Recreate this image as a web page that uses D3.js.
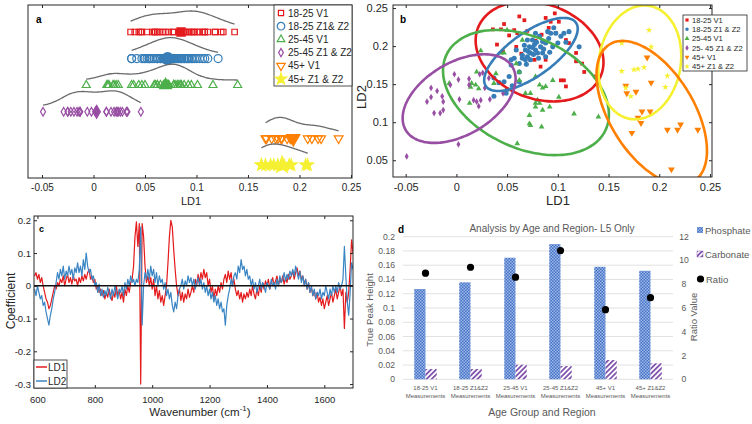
<!DOCTYPE html>
<html>
<head>
<meta charset="utf-8">
<script src="https://cdn.jsdelivr.net/npm/d3@7"></script>
<style>
  body { margin: 0; background: #fff; }
  svg { display: block; font-family: "Liberation Sans", Arial, sans-serif; }
</style>
</head>
<body>
<svg id="fig" width="752" height="424"></svg>
<script>
// ---- data: panels a & b (LD1, LD2 scores per group) ----
var groupsA = ["18-25 V1", "18-25 Z1& Z2", "25-45 V1", "25-45 Z1 & Z2", "45+ V1", "45+ Z1 & Z2"];
var groupsB = ["18-25 V1", "18-25 Z1 & Z2", "25-45 V1", "25- 45 Z1 & Z2", "45+ V1", "45+ Z1 & Z2"];

var young1 = [[0.036,0.222],[0.044,0.222],[0.040,0.202],[0.046,0.193],[0.052,0.214],[0.057,0.221],[0.060,0.217],
  [0.062,0.239],[0.067,0.234],[0.059,0.199],[0.073,0.182],[0.077,0.182],[0.078,0.207],[0.084,0.215],[0.091,0.224],
  [0.093,0.232],[0.097,0.243],[0.098,0.217],[0.101,0.232],[0.108,0.208],[0.111,0.204],[0.118,0.191],[0.118,0.180],
  [0.124,0.177],[0.103,0.155],[0.106,0.155],[0.108,0.147],[0.088,0.182],[0.126,0.166],[0.083,0.173],[0.137,0.160],
  [0.047,0.229],[0.070,0.220],[0.088,0.237],[0.095,0.200],[0.064,0.190]];
var young2 = [[0.037,0.158],[0.037,0.134],[0.042,0.152],[0.047,0.153],[0.052,0.160],[0.050,0.143],[0.055,0.148],
  [0.054,0.182],[0.057,0.184],[0.062,0.166],[0.062,0.177],[0.065,0.188],[0.068,0.195],[0.070,0.208],[0.072,0.199],
  [0.073,0.191],[0.075,0.198],[0.077,0.202],[0.078,0.195],[0.080,0.191],[0.078,0.217],[0.082,0.213],[0.083,0.199],
  [0.085,0.191],[0.088,0.204],[0.090,0.219],[0.091,0.210],[0.093,0.217],[0.095,0.199],[0.096,0.224],[0.100,0.204],
  [0.103,0.213],[0.106,0.217],[0.111,0.219],[0.121,0.199],[0.065,0.184],[0.068,0.182],[0.073,0.182],[0.062,0.153],
  [0.049,0.138],[0.054,0.175],[0.059,0.195],[0.070,0.186],[0.075,0.208],[0.085,0.206],[0.088,0.186],[0.098,0.217],
  [0.067,0.201],[0.071,0.193],[0.079,0.205],[0.081,0.184],[0.086,0.196],[0.076,0.189],[0.069,0.176],[0.092,0.192],
  [0.108,0.205]];
var middle1 = [[0.024,0.194],[0.044,0.191],[0.050,0.221],[0.065,0.208],[0.059,0.177],[-0.007,0.151],[0.014,0.146],
  [0.015,0.151],[0.020,0.166],[0.022,0.144],[0.019,0.149],[0.013,0.125],[0.037,0.151],[0.039,0.164],[0.047,0.191],
  [0.062,0.166],[0.068,0.138],[0.073,0.138],[0.078,0.160],[0.082,0.149],[0.085,0.145],[0.088,0.147],[0.095,0.155],
  [0.078,0.125],[0.080,0.129],[0.082,0.125],[0.078,0.120],[0.085,0.116],[0.092,0.120],[0.072,0.109],[0.072,0.098],
  [0.073,0.096],[0.084,0.094],[0.101,0.133],[0.116,0.111],[0.140,0.107],[0.060,0.072],[0.062,0.155]];
var middle2 = [[-0.049,0.055],[0.002,0.071],[-0.025,0.145],[-0.029,0.127],[-0.025,0.133],[-0.019,0.141],
  [-0.014,0.134],[-0.013,0.127],[-0.022,0.112],[-0.016,0.112],[-0.013,0.116],[-0.002,0.163],[0.002,0.156],
  [-0.006,0.149],[0.003,0.130],[0.0125,0.157],[0.0125,0.149],[0.017,0.129],[0.020,0.127],[0.022,0.121],
  [0.023,0.163],[0.026,0.165],[0.032,0.158],[0.033,0.130],[0.028,0.145],[0.024,0.129],[0.046,0.138]];
var older1 = [[0.188,0.185],[0.192,0.152],[0.167,0.148],[0.168,0.138],[0.177,0.140],[0.183,0.114],[0.191,0.114],
  [0.179,0.106],[0.182,0.099],[0.173,0.086],[0.208,0.090],[0.218,0.090],[0.221,0.097],[0.238,0.090],[0.212,0.038]];
var older2 = [[0.190,0.221],[0.163,0.204],[0.192,0.199],[0.163,0.167],[0.175,0.169],[0.179,0.170],[0.185,0.172],
  [0.208,0.161],[0.206,0.146],[0.172,0.134],[0.167,0.145]];
var groupScores = [young1, young2, middle1, middle2, older1, older2];
// group centre markers in panel a (LD1)
var groupCentres = [0.085, 0.072, 0.070, 0.003, 0.194, 0.183];

// confidence ellipses (centre, two semi-axis vectors, data units)
var ellipseCentre = [[0.082,0.193],[0.0735,0.189],[0.0686,0.139],[0.0027,0.131],[0.1926,0.1124],[0.1808,0.1786]];
var ellipseAxisU = [[0.0610,-0.0299],[0.0444,0.0417],[0.0785,-0.0492],[0.0528,0.0410],[0.0417,-0.0897],[0.0097,0.0742]];
var ellipseAxisV = [[-0.0158,-0.0585],[0.0124,-0.0238],[-0.0229,-0.0659],[0.0177,-0.0413],[-0.0350,-0.0295],[0.0397,-0.0094]];

var ticksA = [-0.05, 0, 0.05, 0.1, 0.15, 0.2, 0.25];
var ticksBY = [0.05, 0.1, 0.15, 0.2, 0.25];

// ---- data: panel c (loadings, 5 cm-1 steps from 590 to 1700) ----
var wavenumbers = d3.range(590, 1701, 5);
var ld1 = [
  0.03,0.04,0.02,0.035,0.01,0.025,0.0,-0.02,-0.04,-0.05,
  -0.07,-0.06,-0.04,-0.02,0.0,-0.01,0.01,0.0,0.02,0.01,
  0.03,0.0,0.02,0.035,0.01,0.025,0.005,0.03,0.015,0.02,
  0.0,0.025,0.01,0.03,0.015,0.035,0.02,0.04,0.05,0.02,
  0.03,0.01,0.02,-0.01,0.0,-0.02,-0.01,-0.03,-0.015,-0.04,
  -0.02,-0.035,-0.01,-0.03,-0.045,-0.02,-0.035,0.0,-0.03,-0.015,
  -0.04,-0.02,-0.05,-0.01,-0.03,0.0,-0.02,0.01,0.02,0.06,
  0.15,0.195,0.12,0.19,-0.30,0.19,0.15,0.06,0.01,0.03,
  0.0,0.025,-0.01,0.02,-0.03,0.0,-0.04,-0.015,-0.05,-0.03,
  -0.06,-0.03,0.0,0.07,0.15,0.2,0.18,0.11,0.05,0.0,
  -0.03,-0.01,-0.045,-0.02,-0.05,-0.025,-0.04,-0.01,-0.035,-0.02,
  0.0,-0.02,0.02,0.0,0.035,0.01,0.04,0.02,0.05,0.025,
  0.04,0.0,0.02,-0.02,0.0,-0.04,-0.01,-0.03,0.0,-0.02,
  0.01,-0.01,0.02,0.035,0.01,0.045,0.02,0.04,0.0,0.02,
  -0.01,-0.03,-0.015,-0.04,-0.02,-0.05,-0.025,-0.04,-0.02,-0.035,
  -0.01,-0.03,0.0,-0.025,-0.04,-0.01,-0.03,0.0,-0.02,0.01,
  -0.01,0.015,0.0,0.02,-0.01,0.01,0.025,0.0,0.015,0.03,
  0.0,0.02,0.01,0.03,0.005,0.025,0.01,0.035,0.02,0.03,
  0.045,0.02,0.04,0.055,0.03,0.045,0.02,0.03,0.005,0.02,
  -0.01,0.01,-0.02,-0.005,-0.03,-0.015,-0.04,-0.02,-0.05,-0.035,
  -0.06,-0.04,-0.07,-0.05,-0.03,-0.06,-0.04,-0.02,-0.05,-0.03,
  -0.01,-0.04,-0.02,0.0,-0.03,-0.01,-0.13,-0.02,-0.05,-0.02,0.05,0.14,0.1];
var ld2 = [
  -0.01,-0.03,0.0,-0.02,-0.04,-0.03,-0.06,-0.05,-0.08,-0.1,
  -0.12,-0.09,-0.07,-0.04,-0.02,0.01,0.04,0.02,0.05,0.03,
  0.06,0.02,0.045,0.03,0.06,0.035,0.05,0.02,0.055,0.04,
  0.07,0.04,0.06,0.03,0.08,0.05,0.1,0.06,0.04,0.05,
  0.02,0.03,0.0,0.01,-0.02,0.005,-0.03,-0.01,-0.035,-0.015,
  -0.03,-0.005,-0.02,-0.04,-0.01,-0.03,0.0,-0.02,-0.04,-0.01,
  -0.02,0.0,-0.03,0.01,-0.01,0.02,0.0,0.03,0.01,0.02,
  0.0,0.02,0.01,0.05,0.18,-0.12,0.0,0.04,0.02,0.05,
  0.02,0.06,0.03,0.05,0.01,0.04,0.0,0.03,0.01,0.02,
  -0.01,0.01,-0.03,-0.01,-0.04,-0.02,-0.06,-0.08,-0.05,-0.07,
  -0.03,-0.01,0.0,0.02,-0.01,0.015,0.0,0.03,0.01,0.025,
  0.0,0.02,-0.01,0.01,0.025,0.0,0.02,-0.01,0.01,-0.02,
  0.0,-0.03,-0.01,-0.04,-0.02,-0.05,-0.03,-0.06,-0.04,-0.07,
  -0.05,-0.08,-0.07,-0.12,-0.06,-0.03,-0.01,0.02,0.0,0.03,
  0.04,0.02,0.06,0.04,0.08,0.05,0.06,0.03,0.05,0.02,
  0.03,0.0,0.02,-0.01,0.01,-0.02,0.0,0.02,-0.01,0.01,
  0.0,-0.02,0.01,0.0,-0.01,0.02,0.0,0.01,-0.01,0.02,
  0.0,0.03,0.01,0.02,0.04,0.015,0.035,0.02,0.045,0.03,
  0.05,0.03,0.06,0.04,0.02,0.045,0.01,0.03,0.0,0.02,
  -0.01,0.01,-0.02,0.0,-0.03,-0.01,-0.04,-0.02,-0.03,-0.01,
  -0.04,-0.02,-0.03,0.0,-0.02,-0.04,-0.01,-0.03,0.0,-0.02,
  0.0,-0.02,0.01,-0.01,0.0,0.02,0.12,0.03,-0.05,-0.09,-0.02,0.07,0.05];
var ticksCX = [600, 800, 1000, 1200, 1400, 1600];
var ticksCY = [-0.3, -0.2, -0.1, 0, 0.1, 0.2];

// ---- data: panel d ----
var dCategories = ["18-25 V1", "18-25 Z1&Z2", "25-45 V1", "25-45 Z1&Z2", "45+ V1", "45+ Z1&Z2"];
var phosphate = [0.1266, 0.136, 0.1705, 0.1896, 0.1578, 0.1522];
var carbonate = [0.0144, 0.0144, 0.0205, 0.0186, 0.027, 0.0224];
var ratio = [8.93, 9.43, 8.59, 10.83, 5.86, 6.87];
var ticksDL = [0, 0.02, 0.04, 0.06, 0.08, 0.1, 0.12, 0.14, 0.16, 0.18, 0.2];
var ticksDR = [0, 2, 4, 6, 8, 10, 12];

// ---- styles ----
var colors = ["#e41a1c", "#377eb8", "#4daf4a", "#984ea3", "#ff7f00", "#f5f032"];
var shapes = [d3.symbolSquare, d3.symbolCircle, d3.symbolTriangle, d3.symbolDiamond, d3.symbolTriangle, d3.symbolStar];
var flipped = [false, false, false, false, true, false];
var axisCol = "#262626";
var fmt = function(d) { return String(d); };

var svg = d3.select("#fig");
var defs = svg.append("defs");

function boxAxes(g, x, y, o) {
  var xr = x.range(), yr = y.range();
  g.append("g").attr("transform", "translate(0," + yr[0] + ")")
    .call(d3.axisBottom(x).tickValues(o.xTicks).tickSizeInner(-3).tickSizeOuter(0).tickPadding(o.xPad).tickFormat(fmt));
  g.append("g").attr("transform", "translate(0," + yr[1] + ")")
    .call(d3.axisTop(x).tickValues(o.xTicks).tickSizeInner(-3).tickSizeOuter(0).tickFormat(""));
  g.append("g").attr("transform", "translate(" + xr[0] + ",0)")
    .call(d3.axisLeft(y).tickValues(o.yTicks || []).tickSizeInner(-3).tickSizeOuter(0).tickPadding(o.yPad || 3).tickFormat(fmt));
  g.append("g").attr("transform", "translate(" + xr[1] + ",0)")
    .call(d3.axisRight(y).tickValues(o.yTicks || []).tickSizeInner(-3).tickSizeOuter(0).tickFormat(""));
  g.selectAll(".domain").remove();
  g.selectAll(".tick line").attr("stroke", axisCol);
  g.selectAll(".tick text").attr("fill", axisCol).attr("font-size", o.fontSize);
  g.append("rect")
    .attr("x", xr[0]).attr("y", yr[1])
    .attr("width", xr[1] - xr[0]).attr("height", yr[0] - yr[1])
    .attr("fill", "none").attr("stroke", axisCol).attr("stroke-width", 1);
}

function marker(i, size) {
  return d3.symbol().type(shapes[i]).size(size)();
}

// =========== panel a ===========
var gA = svg.append("g");
var xA = d3.scaleLinear().domain([-0.0636, 0.251]).range([28, 352]);
var rowA = d3.scalePoint().domain(d3.range(6)).range([32, 165]);
var sizesA = [30, 50, 28, 22, 34, 40];

function kde(vals, bw, n) {
  var lo = d3.min(vals), hi = d3.max(vals);
  return d3.range(n + 1).map(function(i) {
    var t = lo + (hi - lo) * i / n;
    return [t, d3.mean(vals, function(v) { var u = (t - v) / bw; return Math.exp(-0.5 * u * u); })];
  });
}

groupScores.forEach(function(pts, i) {
  var vals = pts.map(function(p) { return p[0]; });
  var dens = kde(vals, 0.012, 80);
  var dmax = d3.max(dens, function(d) { return d[1]; });
  var row = rowA(i);
  gA.append("path")
    .attr("d", d3.line()
      .x(function(d) { return xA(d[0]); })
      .y(function(d) { return row - 4 - 17 * d[1] / dmax; })
      .curve(d3.curveBasis)(dens))
    .attr("fill", "none").attr("stroke", "#6b6b6b").attr("stroke-width", 1.3);

  var filled = i === 5;
  gA.append("g").selectAll("path").data(vals).enter().append("path")
    .attr("d", marker(i, sizesA[i]))
    .attr("transform", function(v) { return "translate(" + xA(v) + "," + row + ")" + (flipped[i] ? " rotate(180)" : ""); })
    .attr("fill", filled ? colors[i] : "none")
    .attr("stroke", colors[i]).attr("stroke-width", 1.2);

  gA.append("path")
    .attr("d", marker(i, sizesA[i] * 2.2))
    .attr("transform", "translate(" + xA(groupCentres[i]) + "," + row + ")" + (flipped[i] ? " rotate(180)" : ""))
    .attr("fill", colors[i]).attr("stroke", colors[i]).attr("stroke-width", 1.2);
});

boxAxes(gA, xA, d3.scaleLinear().range([178, 5]), { xTicks: ticksA, xPad: 6, fontSize: 10 });

gA.append("text").attr("x", 191).attr("y", 205).attr("text-anchor", "middle")
  .attr("font-size", 11).attr("fill", axisCol).text("LD1");
gA.append("text").attr("x", 36).attr("y", 23).attr("font-size", 10).attr("font-weight", "bold").text("a");

// legend a
var legA = gA.append("g");
legA.append("rect").attr("x", 274).attr("y", 5).attr("width", 78).attr("height", 81)
  .attr("fill", "#fff").attr("stroke", axisCol).attr("stroke-width", 0.8);
groupsA.forEach(function(name, i) {
  var y = 13 + i * 13.2;
  legA.append("path").attr("d", marker(i, i === 5 ? 40 : sizesA[i] * 0.9))
    .attr("transform", "translate(281," + y + ")" + (flipped[i] ? " rotate(180)" : ""))
    .attr("fill", i === 5 ? colors[i] : "none").attr("stroke", colors[i]).attr("stroke-width", 1.2);
  legA.append("text").attr("x", 288).attr("y", y + 3.6).attr("font-size", 10).attr("fill", axisCol).text(name);
});

// =========== panel b ===========
var gB = svg.append("g");
var xB = d3.scaleLinear().domain([-0.0625, 0.252]).range([393, 712]);
var yB = d3.scaleLinear().domain([0.028, 0.254]).range([177, 5]);
var sizesB = [14, 20, 14, 13, 20, 14];

defs.append("clipPath").attr("id", "clipB").append("rect")
  .attr("x", 393).attr("y", 5).attr("width", 319).attr("height", 172);
var plotB = gB.append("g").attr("clip-path", "url(#clipB)");

groupScores.forEach(function(pts, i) {
  plotB.append("g").selectAll("path").data(pts).enter().append("path")
    .attr("d", marker(i, sizesB[i]))
    .attr("transform", function(p) { return "translate(" + xB(p[0]) + "," + yB(p[1]) + ")" + (flipped[i] ? " rotate(180)" : ""); })
    .attr("fill", colors[i]);
});

var ellipseOrder = [0, 1, 2, 3, 5, 4];
ellipseOrder.forEach(function(i) {
  var c = ellipseCentre[i], u = ellipseAxisU[i], v = ellipseAxisV[i];
  var ts = d3.range(0, 2 * Math.PI, Math.PI / 60);
  plotB.append("path")
    .attr("d", d3.line()
      .x(function(t) { return xB(c[0] + u[0] * Math.cos(t) + v[0] * Math.sin(t)); })
      .y(function(t) { return yB(c[1] + u[1] * Math.cos(t) + v[1] * Math.sin(t)); })
      .curve(d3.curveCardinalClosed)(ts))
    .attr("fill", "none").attr("stroke", colors[i]).attr("stroke-width", 2.6);
});

boxAxes(gB, xB, yB, { xTicks: ticksA, yTicks: ticksBY, xPad: 6, yPad: 5, fontSize: 11 });

gB.append("text").attr("x", 558).attr("y", 205).attr("text-anchor", "middle")
  .attr("font-size", 13).attr("fill", axisCol).text("LD1");
gB.append("text").attr("transform", "translate(366,97) rotate(-90)").attr("text-anchor", "middle")
  .attr("font-size", 13).attr("fill", axisCol).text("LD2");
gB.append("text").attr("x", 400).attr("y", 23).attr("font-size", 10).attr("font-weight", "bold").text("b");

var legB = gB.append("g");
legB.append("rect").attr("x", 683).attr("y", 15).attr("width", 64).attr("height", 56)
  .attr("fill", "#fff").attr("stroke", axisCol).attr("stroke-width", 0.8);
groupsB.forEach(function(name, i) {
  var y = 20 + i * 9.3;
  legB.append("path").attr("d", marker(i, 10))
    .attr("transform", "translate(687," + y + ")" + (flipped[i] ? " rotate(180)" : ""))
    .attr("fill", colors[i]);
  legB.append("text").attr("x", 692).attr("y", y + 2.8).attr("font-size", 7.6).attr("fill", axisCol).text(name);
});

// =========== panel c ===========
var gC = svg.append("g");
var xC = d3.scaleLinear().domain([588, 1700]).range([34, 353]);
var yC = d3.scaleLinear().domain([-0.312, 0.213]).range([388, 216]);

defs.append("clipPath").attr("id", "clipC").append("rect")
  .attr("x", 34).attr("y", 216).attr("width", 319).attr("height", 172);
var plotC = gC.append("g").attr("clip-path", "url(#clipC)");

var specLine = function(series) {
  return d3.line()
    .x(function(d, i) { return xC(wavenumbers[i]); })
    .y(function(d) { return yC(d); })(series);
};
plotC.append("path").attr("d", specLine(ld1)).attr("fill", "none")
  .attr("stroke", "#e41a1c").attr("stroke-width", 1.2).attr("stroke-linejoin", "round");
plotC.append("path").attr("d", specLine(ld2)).attr("fill", "none")
  .attr("stroke", "#3a85c4").attr("stroke-width", 1.2).attr("stroke-linejoin", "round");
plotC.append("line").attr("x1", xC(588)).attr("x2", xC(1700)).attr("y1", yC(0)).attr("y2", yC(0))
  .attr("stroke", "#111").attr("stroke-width", 1.5);

boxAxes(gC, xC, yC, { xTicks: ticksCX, yTicks: ticksCY, xPad: 8, yPad: 3, fontSize: 9.5 });

gC.append("text").attr("transform", "translate(15,301) rotate(-90)").attr("text-anchor", "middle")
  .attr("font-size", 12).attr("fill", axisCol).text("Coefficient");
var wl = gC.append("text").attr("x", 200).attr("y", 416).attr("text-anchor", "middle")
  .attr("font-size", 11.5).attr("fill", axisCol);
wl.append("tspan").text("Wavenumber (cm");
wl.append("tspan").attr("font-size", 8).attr("dy", -5).text("-1");
wl.append("tspan").attr("dy", 5).text(")");
gC.append("text").attr("x", 39).attr("y", 232).attr("font-size", 9).attr("font-weight", "bold").text("c");

var legC = gC.append("g");
legC.append("rect").attr("x", 34).attr("y", 360).attr("width", 33).attr("height", 28)
  .attr("fill", "#fff").attr("stroke", axisCol).attr("stroke-width", 0.8);
[["LD1", "#e41a1c"], ["LD2", "#3a85c4"]].forEach(function(e, i) {
  var y = 367 + i * 14;
  legC.append("line").attr("x1", 36).attr("x2", 47).attr("y1", y).attr("y2", y)
    .attr("stroke", e[1]).attr("stroke-width", 1.5);
  legC.append("text").attr("x", 48).attr("y", y + 3.5).attr("font-size", 10).attr("fill", axisCol).text(e[0]);
});

// =========== panel d ===========
var gD = svg.append("g");
var grey = "#595959";
var x0 = d3.scaleBand().domain(d3.range(dCategories.length)).range([403, 673]).paddingInner(0.5).paddingOuter(0.25);
var x1 = d3.scaleBand().domain([0, 1]).range([0, x0.bandwidth()]);
var yL = d3.scaleLinear().domain([0, 0.2]).range([379.3, 236.7]);
var yR = d3.scaleLinear().domain([0, 12]).range([379.3, 236.7]);

var chk = defs.append("pattern").attr("id", "chk").attr("width", 3).attr("height", 3)
  .attr("patternUnits", "userSpaceOnUse");
chk.append("rect").attr("width", 3).attr("height", 3).attr("fill", "#4472c4");
chk.append("rect").attr("width", 1.5).attr("height", 1.5).attr("fill", "#9fb8ea");
chk.append("rect").attr("x", 1.5).attr("y", 1.5).attr("width", 1.5).attr("height", 1.5).attr("fill", "#9fb8ea");
var hatch = defs.append("pattern").attr("id", "hatch").attr("width", 3.6).attr("height", 3.6)
  .attr("patternUnits", "userSpaceOnUse").attr("patternTransform", "rotate(45)");
hatch.append("rect").attr("width", 3.6).attr("height", 3.6).attr("fill", "#fff");
hatch.append("line").attr("x1", 0.9).attr("x2", 0.9).attr("y1", 0).attr("y2", 3.6)
  .attr("stroke", "#7b4aa8").attr("stroke-width", 1.7);

gD.append("g").selectAll("line").data(ticksDL).enter().append("line")
  .attr("x1", 403).attr("x2", 673)
  .attr("y1", function(d) { return yL(d); }).attr("y2", function(d) { return yL(d); })
  .attr("stroke", "#d9d9d9").attr("stroke-width", 0.8);

gD.append("g").selectAll("text").data(ticksDL).enter().append("text")
  .attr("x", 395).attr("y", function(d) { return yL(d) + 3; }).attr("text-anchor", "end")
  .attr("font-size", 8.6).attr("fill", grey).text(fmt);
gD.append("g").selectAll("text").data(ticksDR).enter().append("text")
  .attr("x", 684).attr("y", function(d) { return yR(d) + 3; }).attr("text-anchor", "middle")
  .attr("font-size", 8.6).attr("fill", grey).text(fmt);

gD.append("g").selectAll("rect").data(phosphate).enter().append("rect")
  .attr("x", function(d, i) { return x0(i) + x1(0); }).attr("width", x1.bandwidth())
  .attr("y", function(d) { return yL(d); }).attr("height", function(d) { return yL(0) - yL(d); })
  .attr("fill", "url(#chk)");
gD.append("g").selectAll("rect").data(carbonate).enter().append("rect")
  .attr("x", function(d, i) { return x0(i) + x1(1); }).attr("width", x1.bandwidth())
  .attr("y", function(d) { return yL(d); }).attr("height", function(d) { return yL(0) - yL(d); })
  .attr("fill", "url(#hatch)");
gD.append("g").selectAll("circle").data(ratio).enter().append("circle")
  .attr("cx", function(d, i) { return x0(i) + x0.bandwidth() / 2; })
  .attr("cy", function(d) { return yR(d); }).attr("r", 3.6).attr("fill", "#000");

var catText = gD.append("g").selectAll("text").data(dCategories).enter().append("text")
  .attr("text-anchor", "middle").attr("font-size", 6).attr("fill", grey)
  .attr("transform", function(d, i) { return "translate(" + (x0(i) + x0.bandwidth() / 2) + ",390)"; });
catText.append("tspan").attr("x", 0).text(function(d) { return d; });
catText.append("tspan").attr("x", 0).attr("dy", 7.8).text("Measurements");

gD.append("text").attr("x", 552).attr("y", 232).attr("text-anchor", "middle")
  .attr("font-size", 10).attr("fill", grey).text("Analysis by Age and Region- L5 Only");
gD.append("text").attr("x", 542).attr("y", 416).attr("text-anchor", "middle")
  .attr("font-size", 10.5).attr("fill", grey).text("Age Group and Region");
gD.append("text").attr("transform", "translate(373,310) rotate(-90)").attr("text-anchor", "middle")
  .attr("font-size", 9.5).attr("fill", grey).text("True Peak Height");
gD.append("text").attr("transform", "translate(697,317) rotate(-90)").attr("text-anchor", "middle")
  .attr("font-size", 9.5).attr("fill", grey).text("Ratio Value");
gD.append("text").attr("x", 398).attr("y", 233).attr("font-size", 10).attr("font-weight", "bold").text("d");

var legD = gD.append("g");
legD.append("rect").attr("x", 697).attr("y", 227).attr("width", 6).attr("height", 6).attr("fill", "url(#chk)");
legD.append("text").attr("x", 705).attr("y", 234).attr("font-size", 9.5).attr("fill", grey).text("Phosphate");
legD.append("rect").attr("x", 697).attr("y", 251).attr("width", 6).attr("height", 6).attr("fill", "url(#hatch)")
  .attr("stroke", "#7b4aa8").attr("stroke-width", 0.4);
legD.append("text").attr("x", 705).attr("y", 258).attr("font-size", 9.5).attr("fill", grey).text("Carbonate");
legD.append("circle").attr("cx", 700.5).attr("cy", 279).attr("r", 3.6).attr("fill", "#000");
legD.append("text").attr("x", 706).attr("y", 283).attr("font-size", 9.5).attr("fill", grey).text("Ratio");
</script>
</body>
</html>
